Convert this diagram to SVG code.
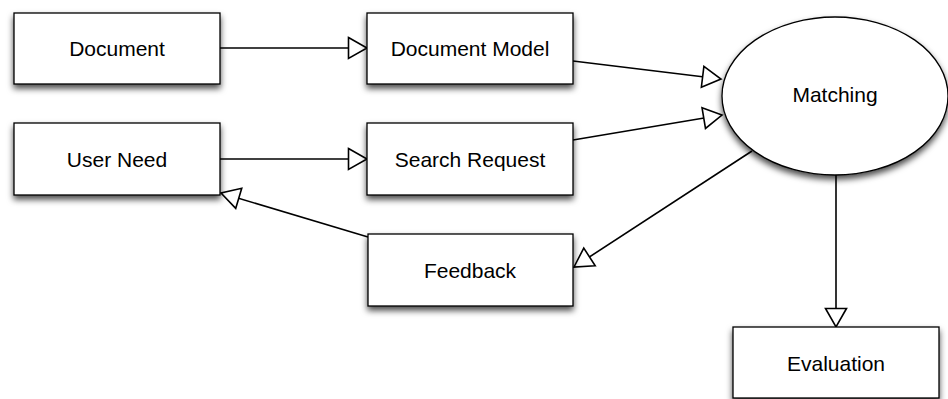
<svg xmlns="http://www.w3.org/2000/svg" width="948" height="399" viewBox="0 0 948 399">
  <defs>
    <filter id="shadow" x="-20%" y="-20%" width="140%" height="150%">
      <feDropShadow dx="0" dy="4" stdDeviation="3" flood-color="#000" flood-opacity="0.7"/>
    </filter>
    <!-- hollow triangular arrowhead -->
    <marker id="hollow" markerUnits="userSpaceOnUse" viewBox="0 0 22 24" markerWidth="22" markerHeight="24" refX="20" refY="12" orient="auto">
      <path d="M1.5,1.5 L20,12 L1.5,22.5 Z" fill="#fff" stroke="#000" stroke-width="1.6" stroke-linejoin="miter"/>
    </marker>
  </defs>
  <style>
    .box { fill: #fff; stroke: #000; stroke-width: 1.3; filter: url(#shadow); }
    .label { font-family: "Liberation Sans", Arial, sans-serif; font-size: 21px; fill: #000; text-anchor: middle; dominant-baseline: central; }
    .edge { fill: none; stroke: #000; stroke-width: 1.6; marker-end: url(#hollow); }
  </style>
  <rect width="948" height="399" fill="#fff"/>

  <g id="connectors">
    <line class="edge" x1="220" y1="48" x2="367" y2="48"/>
    <line class="edge" x1="220" y1="159" x2="367" y2="159"/>
    <line class="edge" x1="573" y1="61" x2="721" y2="79"/>
    <line class="edge" x1="573" y1="140" x2="722" y2="115"/>
    <line class="edge" x1="752" y1="151" x2="574" y2="267"/>
    <line class="edge" x1="368" y1="237" x2="221" y2="193"/>
    <line class="edge" x1="836" y1="175" x2="836" y2="327"/>
  </g>

  <g id="document">
    <rect class="box" x="14" y="13" width="206" height="71"/>
    <text class="label" x="117" y="48">Document</text>
  </g>
  <g id="document-model">
    <rect class="box" x="367" y="13" width="206" height="71"/>
    <text class="label" x="470" y="48">Document Model</text>
  </g>
  <g id="user-need">
    <rect class="box" x="14" y="123" width="206" height="72"/>
    <text class="label" x="117" y="159">User Need</text>
  </g>
  <g id="search-request">
    <rect class="box" x="367" y="123" width="206" height="72"/>
    <text class="label" x="470" y="159">Search Request</text>
  </g>
  <g id="feedback">
    <rect class="box" x="368" y="234" width="205" height="72"/>
    <text class="label" x="470" y="270">Feedback</text>
  </g>
  <g id="matching">
    <ellipse class="box" cx="835" cy="96" rx="113" ry="79"/>
    <text class="label" x="835" y="94">Matching</text>
  </g>
  <g id="evaluation">
    <rect class="box" x="733" y="327" width="206" height="71"/>
    <text class="label" x="836" y="363">Evaluation</text>
  </g>
</svg>
